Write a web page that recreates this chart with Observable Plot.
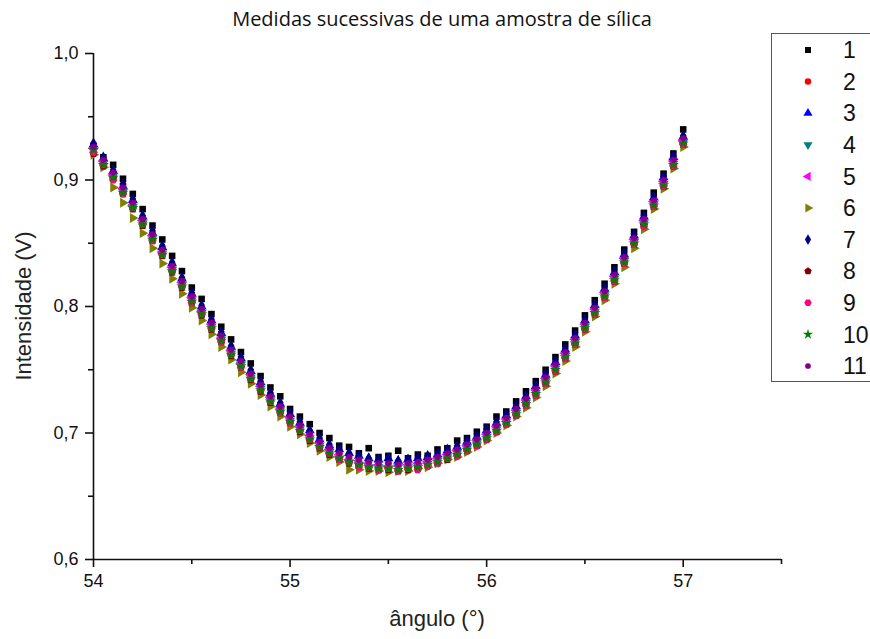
<!DOCTYPE html>
<html>
<head>
<meta charset="utf-8">
<script src="https://cdn.jsdelivr.net/npm/d3@7"></script>
<script src="https://cdn.jsdelivr.net/npm/@observablehq/plot@0.6"></script>
<style>
  html, body { margin: 0; padding: 0; background: #fff; overflow: hidden; }
  #wrap { position: relative; width: 870px; height: 639px; font-family: "Liberation Sans", Arial, sans-serif; }
  #title { position: absolute; top: 5px; left: 0; width: 884px; text-align: center; font-family: "Open Sans", "Noto Sans", sans-serif; font-size: 20px; color: #111; }
  #xlabel { position: absolute; top: 606px; left: 0; width: 874px; text-align: center; font-size: 22px; color: #222; }
  #ylabel { position: absolute; left: 24px; top: 306px; transform: translate(-50%, -50%) rotate(-90deg); white-space: nowrap; font-size: 22px; color: #222; }
  #legend { position: absolute; left: 771px; top: 33px; width: 120px; height: 349px; border: 1px solid #555; box-sizing: border-box; }
</style>
</head>
<body>
<div id="wrap">
  <div id="chart"></div>
  <div id="title">Medidas sucessivas de uma amostra de sílica</div>
  <div id="xlabel">ângulo (°)</div>
  <div id="ylabel">Intensidade (V)</div>
  <svg id="legend"></svg>
</div>
<script>
// ---------------- data ----------------
const angles = [54.00,54.05,54.10,54.15,54.20,54.25,54.30,54.35,54.40,54.45,
  54.50,54.55,54.60,54.65,54.70,54.75,54.80,54.85,54.90,54.95,
  55.00,55.05,55.10,55.15,55.20,55.25,55.30,55.35,55.40,55.45,
  55.50,55.55,55.60,55.65,55.70,55.75,55.80,55.85,55.90,55.95,
  56.00,56.05,56.10,56.15,56.20,56.25,56.30,56.35,56.40,56.45,
  56.50,56.55,56.60,56.65,56.70,56.75,56.80,56.85,56.90,56.95,
  57.00];

const s1 = [0.927,0.918,0.912,0.901,0.889,0.877,0.864,0.853,0.840,0.828,
  0.815,0.806,0.794,0.784,0.774,0.764,0.755,0.745,0.736,0.729,
  0.719,0.713,0.707,0.700,0.696,0.690,0.689,0.684,0.688,0.681,
  0.682,0.686,0.680,0.683,0.682,0.687,0.688,0.694,0.696,0.701,
  0.705,0.713,0.717,0.725,0.733,0.741,0.750,0.760,0.770,0.781,
  0.793,0.805,0.818,0.831,0.845,0.859,0.874,0.890,0.905,0.921,
  0.940];
const s2 = [0.926,0.916,0.906,0.896,0.882,0.870,0.858,0.846,0.833,0.821,
  0.809,0.798,0.788,0.777,0.767,0.757,0.748,0.738,0.730,0.721,
  0.714,0.706,0.699,0.693,0.688,0.684,0.681,0.678,0.677,0.675,
  0.676,0.674,0.676,0.676,0.679,0.680,0.684,0.686,0.691,0.694,
  0.700,0.705,0.712,0.718,0.727,0.734,0.744,0.753,0.764,0.774,
  0.787,0.798,0.812,0.824,0.839,0.853,0.869,0.883,0.900,0.915,
  0.933];
const s3 = [0.928,0.917,0.907,0.895,0.884,0.871,0.858,0.847,0.834,0.822,
  0.810,0.800,0.789,0.779,0.768,0.759,0.749,0.740,0.731,0.723,
  0.715,0.708,0.702,0.695,0.690,0.687,0.684,0.682,0.680,0.679,
  0.680,0.678,0.679,0.680,0.681,0.683,0.686,0.689,0.693,0.697,
  0.702,0.708,0.714,0.721,0.729,0.737,0.746,0.756,0.766,0.777,
  0.789,0.801,0.814,0.827,0.841,0.856,0.871,0.886,0.902,0.918,
  0.934];
const s4 = [0.923,0.913,0.903,0.891,0.879,0.866,0.854,0.842,0.829,0.817,
  0.805,0.795,0.784,0.774,0.763,0.754,0.744,0.735,0.726,0.718,
  0.710,0.703,0.696,0.690,0.685,0.680,0.677,0.675,0.673,0.673,
  0.672,0.673,0.673,0.674,0.676,0.678,0.681,0.684,0.688,0.692,
  0.697,0.703,0.709,0.716,0.724,0.732,0.741,0.751,0.761,0.772,
  0.784,0.796,0.809,0.822,0.836,0.851,0.866,0.881,0.897,0.913,
  0.930];
const s5 = [0.925,0.915,0.904,0.893,0.880,0.868,0.856,0.843,0.831,0.819,
  0.807,0.796,0.786,0.775,0.765,0.755,0.746,0.737,0.728,0.719,
  0.712,0.705,0.698,0.692,0.687,0.683,0.679,0.678,0.676,0.675,
  0.674,0.674,0.675,0.676,0.677,0.680,0.683,0.686,0.690,0.694,
  0.699,0.705,0.711,0.718,0.726,0.734,0.743,0.753,0.763,0.774,
  0.786,0.798,0.811,0.824,0.838,0.853,0.868,0.883,0.899,0.915,
  0.931];
const s6 = [0.920,0.910,0.894,0.882,0.870,0.858,0.846,0.834,0.822,0.810,
  0.799,0.789,0.778,0.768,0.758,0.748,0.739,0.730,0.721,0.713,
  0.705,0.699,0.692,0.686,0.681,0.677,0.671,0.671,0.670,0.670,
  0.669,0.670,0.670,0.672,0.673,0.676,0.679,0.681,0.685,0.689,
  0.694,0.700,0.706,0.713,0.720,0.728,0.737,0.747,0.757,0.768,
  0.780,0.792,0.805,0.818,0.831,0.846,0.861,0.877,0.893,0.909,
  0.926];
const s7 = [0.929,0.918,0.908,0.897,0.885,0.872,0.860,0.848,0.835,0.823,
  0.811,0.801,0.790,0.780,0.769,0.760,0.750,0.741,0.732,0.724,
  0.716,0.709,0.702,0.696,0.691,0.687,0.684,0.682,0.680,0.679,
  0.679,0.678,0.679,0.680,0.682,0.684,0.687,0.690,0.694,0.698,
  0.703,0.709,0.715,0.722,0.730,0.738,0.747,0.757,0.767,0.778,
  0.790,0.802,0.815,0.828,0.842,0.857,0.872,0.887,0.903,0.919,
  0.935];
const s8 = [0.921,0.911,0.901,0.889,0.877,0.864,0.852,0.840,0.827,0.815,
  0.803,0.793,0.782,0.772,0.761,0.752,0.742,0.733,0.724,0.716,
  0.708,0.701,0.694,0.688,0.683,0.679,0.676,0.674,0.672,0.671,
  0.671,0.670,0.671,0.672,0.674,0.676,0.679,0.682,0.686,0.690,
  0.695,0.701,0.707,0.714,0.722,0.730,0.739,0.749,0.759,0.770,
  0.782,0.794,0.807,0.820,0.834,0.849,0.864,0.879,0.895,0.911,
  0.928];
const s9 = [0.922,0.912,0.900,0.889,0.878,0.865,0.852,0.841,0.828,0.816,
  0.803,0.794,0.783,0.772,0.762,0.752,0.743,0.734,0.725,0.716,
  0.708,0.702,0.695,0.689,0.684,0.679,0.677,0.673,0.673,0.671,
  0.672,0.670,0.672,0.671,0.674,0.676,0.680,0.682,0.686,0.690,
  0.695,0.701,0.707,0.714,0.722,0.730,0.739,0.749,0.759,0.770,
  0.782,0.794,0.807,0.820,0.834,0.849,0.863,0.879,0.895,0.911,
  0.928];
const s10 = [0.924,0.912,0.902,0.890,0.878,0.865,0.853,0.841,0.828,0.816,
  0.804,0.794,0.783,0.773,0.762,0.753,0.743,0.734,0.725,0.717,
  0.709,0.702,0.695,0.689,0.684,0.680,0.677,0.675,0.673,0.672,
  0.672,0.671,0.672,0.673,0.675,0.677,0.680,0.683,0.687,0.691,
  0.696,0.702,0.708,0.715,0.723,0.731,0.740,0.750,0.760,0.771,
  0.783,0.795,0.808,0.821,0.835,0.850,0.865,0.880,0.896,0.912,
  0.929];
const s11 = [0.926,0.916,0.906,0.894,0.882,0.869,0.857,0.845,0.832,0.820,
  0.808,0.798,0.787,0.777,0.766,0.757,0.747,0.738,0.729,0.721,
  0.713,0.706,0.699,0.693,0.688,0.684,0.681,0.679,0.677,0.676,
  0.676,0.675,0.676,0.677,0.679,0.681,0.684,0.687,0.691,0.695,
  0.700,0.706,0.712,0.719,0.727,0.735,0.744,0.754,0.764,0.775,
  0.787,0.799,0.812,0.825,0.839,0.854,0.869,0.884,0.900,0.916,
  0.933];

const seriesNames = ["1","2","3","4","5","6","7","8","9","10","11"];
const seriesValues = [s1,s2,s3,s4,s5,s6,s7,s8,s9,s10,s11];
const seriesColors = ["#000000","#ff0000","#0000ff","#008080","#ff00ff","#808000","#000080","#800000","#ff0080","#008000","#800080"];

const xMajorTicks = [54, 55, 56, 57];
const xMinorTicks = [54.5, 55.5, 56.5, 57.5];
const yMajorTicks = [0.6, 0.7, 0.8, 0.9, 1.0];
const yMinorTicks = [0.65, 0.75, 0.85, 0.95];

// ---------------- custom symbols ----------------
function triSym(dir) {
  return {
    draw(ctx, size) {
      const a = Math.sqrt(4 * size / Math.sqrt(3));
      const h = a * Math.sqrt(3) / 2;
      let pts;
      if (dir === "down") pts = [[0, 2*h/3], [a/2, -h/3], [-a/2, -h/3]];
      else if (dir === "left") pts = [[-2*h/3, 0], [h/3, -a/2], [h/3, a/2]];
      else pts = [[2*h/3, 0], [-h/3, -a/2], [-h/3, a/2]];
      ctx.moveTo(pts[0][0], pts[0][1]);
      ctx.lineTo(pts[1][0], pts[1][1]);
      ctx.lineTo(pts[2][0], pts[2][1]);
      ctx.closePath();
    }
  };
}
const pentagon = {
  draw(ctx, size) {
    const r = Math.sqrt(2 * size / (5 * Math.sin(2 * Math.PI / 5)));
    for (let i = 0; i < 5; i++) {
      const t = -Math.PI / 2 + i * 2 * Math.PI / 5;
      const px = r * Math.cos(t), py = r * Math.sin(t);
      if (i === 0) ctx.moveTo(px, py); else ctx.lineTo(px, py);
    }
    ctx.closePath();
  }
};
const hexagon = {
  draw(ctx, size) {
    const r = Math.sqrt(2 * size / (3 * Math.sqrt(3)));
    for (let i = 0; i < 6; i++) {
      const t = i * Math.PI / 3;
      const px = r * Math.cos(t), py = r * Math.sin(t);
      if (i === 0) ctx.moveTo(px, py); else ctx.lineTo(px, py);
    }
    ctx.closePath();
  }
};
const seriesSymbols = [d3.symbolSquare, d3.symbolCircle, d3.symbolTriangle, triSym("down"), triSym("left"), triSym("right"),
  d3.symbolDiamond, pentagon, hexagon, d3.symbolStar, d3.symbolCircle];
const seriesR = [3.7, 3.5, 3.7, 3.7, 3.7, 3.7, 3.5, 3.7, 3.7, 3.5, 3.1];

// ---------------- build ----------------
const fmt = d => d.toFixed(1).replace(".", ",");

const dotMarks = seriesValues.map((vals, k) =>
  Plot.dot(angles.map((a, i) => ({angle: a, v: vals[i]})), {
    x: "angle", y: "v", symbol: seriesSymbols[k], fill: seriesColors[k], r: seriesR[k], stroke: "none"
  })
);

const chart = Plot.plot({
  width: 870,
  height: 639,
  marginLeft: 93,
  marginRight: 89,
  marginTop: 53,
  marginBottom: 80,
  style: {background: "white", color: "#111", fontFamily: "'Liberation Sans', Arial, sans-serif"},
  x: {domain: [54, 57.5], label: null},
  y: {domain: [0.6, 1.0], label: null},
  marks: [
    Plot.axisX({ticks: xMajorTicks, tickSize: 8, tickPadding: 7, fontSize: 18, tickFormat: d => String(d), label: null, strokeWidth: 1.6}),
    Plot.axisX({ticks: xMinorTicks, tickSize: 5, tickFormat: () => "", label: null, strokeWidth: 1.6}),
    Plot.axisY({ticks: yMajorTicks, tickSize: 8, tickPadding: 7, fontSize: 18, tickFormat: fmt, label: null, strokeWidth: 1.6}),
    Plot.axisY({ticks: yMinorTicks, tickSize: 5, tickFormat: () => "", label: null, strokeWidth: 1.6}),
    Plot.ruleX([54], {y1: 0.6, y2: 1.0, strokeWidth: 1.6}),
    Plot.ruleY([0.6], {x1: 54, x2: 57.5, strokeWidth: 1.6}),
    ...dotMarks
  ]
});
document.getElementById("chart").appendChild(chart);

// ---------------- legend ----------------
const leg = d3.select("#legend");
seriesNames.forEach((name, k) => {
  const cy = 16 + k * 31.6;
  const size = Math.PI * seriesR[k] * seriesR[k] * 0.85;
  leg.append("path")
    .attr("transform", `translate(36,${cy})`)
    .attr("d", d3.symbol(seriesSymbols[k], size)())
    .attr("fill", seriesColors[k]);
  leg.append("text")
    .attr("x", 71).attr("y", cy).attr("dy", "0.36em")
    .attr("font-size", 23)
    .attr("font-family", "'Liberation Sans', Arial, sans-serif")
    .attr("fill", "#111")
    .text(name);
});
</script>
</body>
</html>
